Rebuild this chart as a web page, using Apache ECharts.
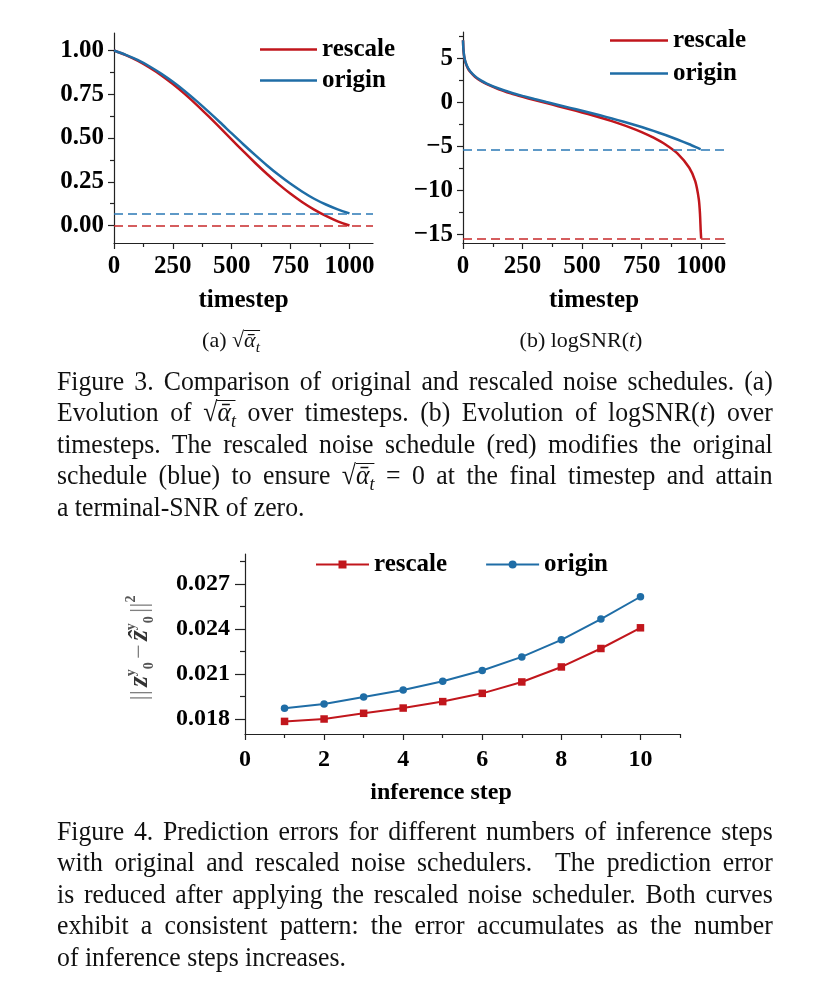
<!DOCTYPE html>
<html><head><meta charset="utf-8">
<script src="https://cdn.jsdelivr.net/npm/echarts@6/dist/echarts.min.js"></script>
<style>
html,body{margin:0;padding:0;background:#fff;}
#chart{position:absolute;left:0;top:0;width:823px;height:1008px;}
.cap{position:absolute;left:57px;width:778px;font-family:'Liberation Serif','Times New Roman',serif;font-size:28px;line-height:31.5px;white-space:nowrap;text-align:justify;text-align-last:justify;transform:scaleX(0.92);transform-origin:0 0;color:#111;}
.cap.last{text-align:left;text-align-last:left;}
.sub{position:absolute;font-family:'Liberation Serif','Times New Roman',serif;font-size:22px;line-height:26px;white-space:nowrap;transform:translateX(-50%);color:#111;}
.ov{display:inline-block;line-height:0.8em;border-top:1.2px solid #111;}
.mi{font-style:italic;}
sub{font-size:0.7em;vertical-align:-0.3em;line-height:0;}
</style>
</head><body>
<div id="chart"></div>

<div class="sub" style="left:231px;top:327px;">(a) √<span class="ov"><span class="mi">ᾱ</span><sub class="mi">t</sub></span></div>
<div class="sub" style="left:581px;top:327px;">(b) logSNR(<span class="mi">t</span>)</div>

<div class="cap" style="top:364.8px;">Figure 3. Comparison of original and rescaled noise schedules. (a)</div>
<div class="cap" style="top:396.3px;">Evolution of √<span class="ov"><span class="mi">ᾱ</span><sub class="mi">t</sub></span> over timesteps. (b) Evolution of logSNR(<span class="mi">t</span>) over</div>
<div class="cap" style="top:427.8px;">timesteps. The rescaled noise schedule (red) modifies the original</div>
<div class="cap" style="top:459.3px;">schedule (blue) to ensure √<span class="ov"><span class="mi">ᾱ</span><sub class="mi">t</sub></span> = 0 at the final timestep and attain</div>
<div class="cap last" style="top:490.8px;">a terminal-SNR of zero.</div>

<div class="cap" style="top:814.8px;">Figure 4. Prediction errors for different numbers of inference steps</div>
<div class="cap" style="top:846.3px;">with original and rescaled noise schedulers.&nbsp; The prediction error</div>
<div class="cap" style="top:877.8px;">is reduced after applying the rescaled noise scheduler. Both curves</div>
<div class="cap" style="top:909.3px;">exhibit a consistent pattern: the error accumulates as the number</div>
<div class="cap last" style="top:940.8px;">of inference steps increases.</div>

<script>
// ---- data: (a) sqrt(alpha_bar_t) ----
const tA = [0, 50, 100, 150, 200, 250, 300, 350, 400, 450, 500, 550, 600, 650, 700, 750, 800, 850, 900, 950, 1000];
const originA = [1.00, 0.975, 0.946, 0.910, 0.868, 0.821, 0.769, 0.712, 0.652, 0.590, 0.526, 0.463, 0.402, 0.343, 0.288, 0.238, 0.193, 0.153, 0.120, 0.092, 0.069];
const rescaleA = [1.00, 0.974, 0.942, 0.903, 0.859, 0.808, 0.752, 0.691, 0.626, 0.559, 0.491, 0.423, 0.357, 0.294, 0.235, 0.181, 0.133, 0.091, 0.055, 0.024, 0.000];
const terminalA = [0.069, 0.0];   // origin, rescale (dashed)

// ---- data: (b) logSNR(t) ----
const tB = [0, 1, 2, 5, 10, 20, 30, 50, 75, 100, 150, 200, 250, 300, 350, 400, 450, 500, 550, 600, 650, 700, 750, 800, 850, 900, 950, 975, 990, 995, 998, 1000];
const originB = [7.07, 6.38, 5.97, 5.26, 4.64, 3.96, 3.54, 2.98, 2.50, 2.14, 1.57, 1.12, 0.73, 0.37, 0.03, -0.30, -0.63, -0.96, -1.30, -1.65, -2.02, -2.40, -2.81, -3.25, -3.72, -4.23, -4.77, -5.06, -5.24, -5.30, -5.33, -5.34];
const rescaleB = [7.06, 6.35, 5.92, 5.20, 4.58, 3.89, 3.47, 2.91, 2.43, 2.06, 1.49, 1.03, 0.63, 0.26, -0.09, -0.44, -0.79, -1.15, -1.52, -1.92, -2.36, -2.84, -3.38, -4.02, -4.79, -5.81, -7.44, -8.97, -11.02, -12.68, -14.60, -15.50];
const terminalB = [-5.34, -15.5];

// ---- data: prediction error vs inference step ----
const stepC = [1, 2, 3, 4, 5, 6, 7, 8, 9, 10];
const originC = [0.01871, 0.01900, 0.01947, 0.01994, 0.02052, 0.02123, 0.02214, 0.02328, 0.02466, 0.02615];
const rescaleC = [0.01784, 0.01800, 0.01838, 0.01873, 0.01916, 0.01971, 0.02047, 0.02147, 0.02270, 0.02408];

// ---- tick labels ----
const ticksTX = [0, 250, 500, 750, 1000];
const minorTX = [125, 375, 625, 875];
const ticksAY = [0, 0.25, 0.5, 0.75, 1.0];
const minorAY = [0.125, 0.375, 0.625, 0.875];
const ticksBY = [-15, -10, -5, 0, 5];
const minorBY = [-12.5, -7.5, -2.5, 2.5, 7.5];
const ticksCX = [0, 2, 4, 6, 8, 10];
const minorCX = [1, 3, 5, 7, 9, 11];
const ticksCY = [0.018, 0.021, 0.024, 0.027];
const minorCY = [0.0195, 0.0225, 0.0255, 0.0285];

const FONT = "'Liberation Serif', 'Times New Roman', serif";
const RED = '#c1161c', BLUE = '#1f6da6';
const RED_D = '#c8282a', BLUE_D = '#2a78b5';
const AX = '#222';

function mainAxis(grid, dim, min, max, ticks, fmt, tickLen, margin, fs) {
  return {
    type: 'value', gridIndex: grid, min: min, max: max,
    position: dim === 'x' ? 'bottom' : 'left',
    splitLine: { show: false },
    axisLine: { show: true, onZero: false, lineStyle: { color: AX, width: 1.2 } },
    axisTick: { show: true, customValues: ticks, length: tickLen, lineStyle: { color: AX, width: 1.2 } },
    axisLabel: { show: true, customValues: ticks, formatter: fmt, margin: margin,
      color: '#000', fontFamily: FONT, fontWeight: 'bold', fontSize: fs }
  };
}
function minorAxis(grid, dim, min, max, ticks, tickLen) {
  return {
    type: 'value', gridIndex: grid, min: min, max: max,
    position: dim === 'x' ? 'bottom' : 'left',
    splitLine: { show: false },
    axisLine: { show: false, onZero: false },
    axisTick: { show: true, customValues: ticks, length: tickLen, lineStyle: { color: AX, width: 1.2 } },
    axisLabel: { show: false }
  };
}
const fmtInt = v => String(v).replace('-', '\u2212');
const fmt2 = v => v.toFixed(2);
const fmt3 = v => v.toFixed(3);

function dashed(color, val) {
  return { silent: true, symbol: ['none', 'none'], label: { show: false },
    lineStyle: { color: color, type: [9, 5], width: 1.5 }, emphasis: { disabled: true },
    data: [{ yAxis: val }] };
}
const legendText = { fontFamily: FONT, fontWeight: 'bold', fontSize: 25, color: '#000' };
const titleFont = "bold 25px 'Liberation Serif', serif";

const option = {
  animation: false,
  backgroundColor: '#fff',
  grid: [
    { left: 114, top: 33, width: 259, height: 210 },
    { left: 463, top: 32, width: 262, height: 211 },
    { left: 245, top: 554, width: 435, height: 180 }
  ],
  xAxis: [
    mainAxis(0, 'x', 0, 1100, ticksTX, fmtInt, 6, 11, 25),
    minorAxis(0, 'x', 0, 1100, minorTX, 4),
    mainAxis(1, 'x', 0, 1100, ticksTX, fmtInt, 6, 11, 25),
    minorAxis(1, 'x', 0, 1100, minorTX, 4),
    mainAxis(2, 'x', 0, 11, ticksCX, fmtInt, 6, 14, 24),
    minorAxis(2, 'x', 0, 11, minorCX, 4)
  ],
  yAxis: [
    mainAxis(0, 'y', -0.1, 1.1, ticksAY, fmt2, 6, 10, 25),
    minorAxis(0, 'y', -0.1, 1.1, minorAY, 4),
    mainAxis(1, 'y', -16, 8, ticksBY, fmtInt, 6, 10, 25),
    minorAxis(1, 'y', -16, 8, minorBY, 4),
    mainAxis(2, 'y', 0.017, 0.029, ticksCY, fmt3, 10, 15, 24),
    minorAxis(2, 'y', 0.017, 0.029, minorCY, 5)
  ],
  legend: [
    { data: ['rescale', 'origin'], orient: 'vertical', left: 260, top: 37, padding: 0, icon: 'rect',
      itemWidth: 57, itemHeight: 2.5, itemGap: 6, textStyle: legendText, formatter: n => n.trim() },
    { data: ['rescale ', 'origin '], orient: 'vertical', left: 610, top: 28, padding: 0, icon: 'rect',
      itemWidth: 58, itemHeight: 2.5, itemGap: 8, textStyle: legendText, formatter: n => n.trim() },
    { data: ['rescale  ', 'origin  '], orient: 'horizontal', left: 315, top: 552, padding: 0,
      itemWidth: 53, itemHeight: 10, itemGap: 38, textStyle: legendText, formatter: n => n.trim() }
  ],
  series: [
    { type: 'line', name: 'rescale', xAxisIndex: 0, yAxisIndex: 0, symbol: 'none', smooth: 0.3,
      data: tA.map((t, i) => [t, rescaleA[i]]),
      lineStyle: { color: RED, width: 2.5 }, itemStyle: { color: RED },
      markLine: dashed(RED_D, terminalA[1]) },
    { type: 'line', name: 'origin', xAxisIndex: 0, yAxisIndex: 0, symbol: 'none', smooth: 0.3,
      data: tA.map((t, i) => [t, originA[i]]),
      lineStyle: { color: BLUE, width: 2.5 }, itemStyle: { color: BLUE },
      markLine: dashed(BLUE_D, terminalA[0]) },
    { type: 'line', name: 'rescale ', xAxisIndex: 2, yAxisIndex: 2, symbol: 'none', smooth: 0.2,
      data: tB.map((t, i) => [t, rescaleB[i]]),
      lineStyle: { color: RED, width: 2.5 }, itemStyle: { color: RED },
      markLine: dashed(RED_D, terminalB[1]) },
    { type: 'line', name: 'origin ', xAxisIndex: 2, yAxisIndex: 2, symbol: 'none', smooth: 0.2,
      data: tB.map((t, i) => [t, originB[i]]),
      lineStyle: { color: BLUE, width: 2.5 }, itemStyle: { color: BLUE },
      markLine: dashed(BLUE_D, terminalB[0]) },
    { type: 'line', name: 'rescale  ', xAxisIndex: 4, yAxisIndex: 4, symbol: 'rect', symbolSize: 7.5,
      data: stepC.map((s, i) => [s, rescaleC[i]]),
      lineStyle: { color: RED, width: 2 }, itemStyle: { color: RED } },
    { type: 'line', name: 'origin  ', xAxisIndex: 4, yAxisIndex: 4, symbol: 'circle', symbolSize: 7.5,
      data: stepC.map((s, i) => [s, originC[i]]),
      lineStyle: { color: BLUE, width: 2 }, itemStyle: { color: BLUE } }
  ],
  graphic: [
    { type: 'text', x: 243.5, y: 301, silent: true,
      style: { text: 'timestep', fill: '#000', font: titleFont, align: 'center', verticalAlign: 'middle' } },
    { type: 'text', x: 594, y: 301, silent: true,
      style: { text: 'timestep', fill: '#000', font: titleFont, align: 'center', verticalAlign: 'middle' } },
    { type: 'text', x: 441, y: 793, silent: true,
      style: { text: 'inference step', fill: '#000', font: "bold 24px 'Liberation Serif', serif", align: 'center', verticalAlign: 'middle' } },
    { type: 'text', x: 140, y: 648, rotation: Math.PI / 2, silent: true,
      style: {
        text: '{b|||} {z|z}{sp|y}{sb|0} {b|\u2212} {z|\u1e91}{sp|y}{sb|0} {b|||}{sp|2}',
        align: 'center', verticalAlign: 'middle',
        rich: {
          b: { fill: '#808080', color: '#808080', fontSize: 26, fontFamily: FONT, lineHeight: 32 },
          z: { fill: '#333', color: '#333', fontSize: 27, fontWeight: 'bold', fontStyle: 'italic', fontFamily: FONT, lineHeight: 32 },
          sp: { fill: '#555', color: '#555', fontSize: 14, fontWeight: 'bold', fontFamily: FONT, verticalAlign: 'top', lineHeight: 32 },
          sb: { fill: '#555', color: '#555', fontSize: 14, fontWeight: 'bold', fontFamily: FONT, verticalAlign: 'bottom', lineHeight: 32 }
        }
      } }
  ]
};

const chart = echarts.init(document.getElementById('chart'), null, { renderer: 'canvas' });
chart.setOption(option);
</script>
</body></html>
